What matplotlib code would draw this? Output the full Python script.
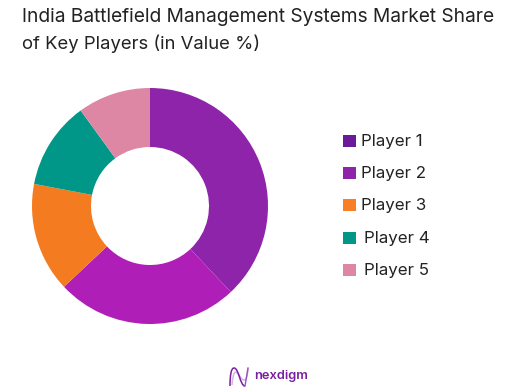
import matplotlib
matplotlib.use('Agg')
import matplotlib.pyplot as plt
from matplotlib.patches import Rectangle, PathPatch
from matplotlib.path import Path

plt.rcParams['font.family'] = ['Inter', 'DejaVu Sans']

W, H = 524, 392

title_lines = ['India Battlefield Management Systems Market Share', 'of Key Players (in Value %)']
title_sizes = [13.8, 13.3]
players = ['Player 1', 'Player 2', 'Player 3', 'Player 4', 'Player 5']
shares = [38, 25, 15, 12, 10]
slice_colors = ['#8E24AA', '#B01EB8', '#F47B20', '#009688', '#DE87A4']
legend_colors = ['#6A1B9A', '#8E24AA', '#F97F26', '#009688', '#DE87A4']
legend_text_x = [361, 361, 361, 364, 364]
legend_y = [141, 173, 205, 238, 270]

fig = plt.figure(figsize=(W / 100, H / 100), dpi=100)
bg = fig.add_axes([0, 0, 1, 1])
bg.set_xlim(0, W)
bg.set_ylim(H, 0)
bg.axis('off')

# donut in its own axes, centred at (150, 206), radius 118 px
r = 118
ax = fig.add_axes([(150 - r) / W, 1 - (206 + r) / H, 2 * r / W, 2 * r / H])
ax.pie(shares, colors=slice_colors, startangle=90, counterclock=False, radius=1,
       wedgeprops=dict(width=0.5, linewidth=0))
ax.set_xlim(-1, 1)
ax.set_ylim(-1, 1)

for y, line, fs in zip([17, 43.5], title_lines, title_sizes):
    bg.text(22, y, line, fontsize=fs, color='#222222', va='center', ha='left')

for name, col, tx, y in zip(players, legend_colors, legend_text_x, legend_y):
    bg.add_patch(Rectangle((343, y - 6.5), 12.5, 12.5, facecolor=col, edgecolor='none'))
    bg.text(tx, y + 0.5, name, fontsize=12.2, color='#222222', va='center', ha='left')

# logo, an N shaped ribbon
codes = [Path.MOVETO, Path.CURVE4, Path.CURVE4, Path.CURVE4, Path.CURVE4, Path.CURVE4, Path.CURVE4]
ribbon_a = [(230, 386), (230, 376), (231, 368), (234, 368), (239, 368), (240, 386), (245, 386)]
ribbon_b = [(232, 385), (233, 372), (235, 370), (238, 374), (241, 378), (247, 388), (248, 368)]
bg.add_patch(PathPatch(Path(ribbon_b, codes), facecolor='none', edgecolor='#D4B4E4', lw=1.1))
bg.add_patch(PathPatch(Path(ribbon_a, codes), facecolor='none', edgecolor='#7B1FA2', lw=1.1))
bg.plot([245, 248], [386, 368], color='#9C4FC0', lw=1.0)
bg.text(254, 376, 'nexdigm', fontsize=9.3, color='#7B1FA2', fontweight='semibold', va='center', ha='left')

fig.savefig('out.png', dpi=100, facecolor='white')
